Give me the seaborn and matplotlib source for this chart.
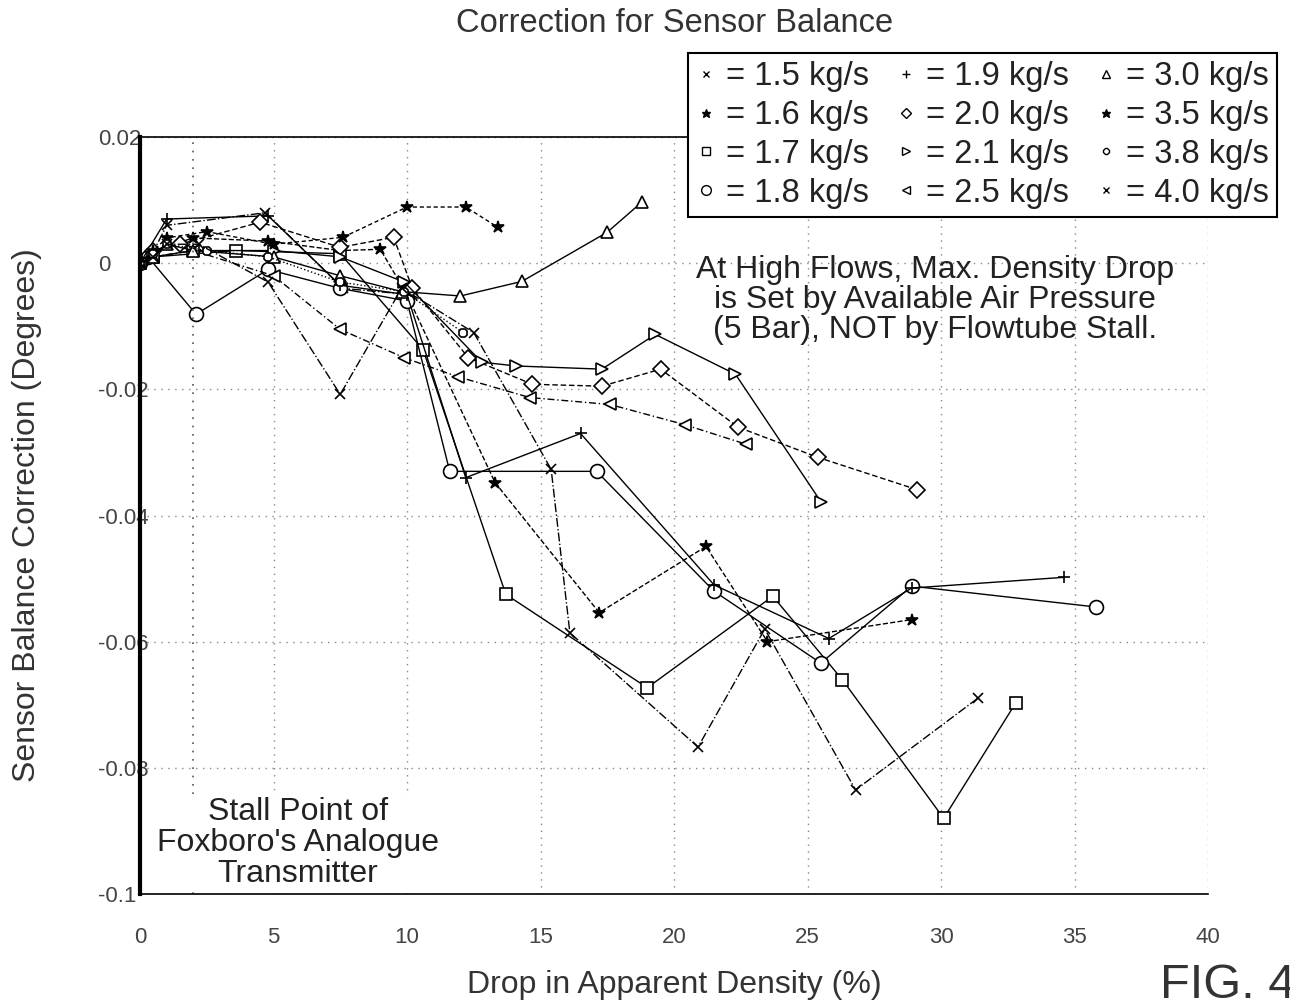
import matplotlib
matplotlib.use("Agg")
import matplotlib.pyplot as plt
from matplotlib.lines import Line2D
import pandas as pd
import seaborn as sns

# flow rates (kg/s) and the traces
FLOWS = ["1.5", "1.6", "1.7", "1.8", "1.9", "2.0", "2.1", "2.5", "3.0", "3.5", "3.8", "4.0"]

X_15 = [0, 0.4, 1.0, 4.7, 7.6, 10.2, 12.5, 15.4, 16.1, 20.9, 23.4, 26.8, 31.4]
Y_15 = [0, 0.001, 0.006, 0.008, -0.004, -0.005, -0.011, -0.0327, -0.0586, -0.0767, -0.058, -0.0835, -0.0689]

X_16 = [0, 0.5, 2.0, 4.8, 7.5, 9.0, 10.0, 13.3, 17.2, 21.2, 23.5, 28.9]
Y_16 = [0, 0.002, 0.004, 0.0035, 0.002, 0.0022, -0.005, -0.0348, -0.0554, -0.0449, -0.060, -0.0565]

X_17 = [0, 0.5, 3.6, 7.5, 10.6, 13.7, 19.0, 23.7, 26.3, 30.1, 32.8]
Y_17 = [0, 0.001, 0.002, 0.0015, -0.0137, -0.0525, -0.0673, -0.0528, -0.066, -0.088, -0.0697]

X_18 = [0, 0.3, 2.1, 4.8, 7.5, 10.0, 11.6, 17.1, 21.5, 25.5, 28.9, 35.8]
Y_18 = [0, 0.001, -0.0081, -0.001, -0.004, -0.006, -0.033, -0.033, -0.052, -0.0634, -0.0512, -0.0545]

X_19 = [0, 1.0, 4.8, 7.5, 10.0, 12.2, 16.5, 21.5, 25.8, 28.9, 34.6]
Y_19 = [0, 0.007, 0.0075, -0.0035, -0.005, -0.034, -0.027, -0.051, -0.0595, -0.0515, -0.0498]

X_20 = [0, 0.5, 1.5, 4.5, 7.5, 9.5, 10.2, 12.3, 14.7, 17.3, 19.5, 22.4, 25.4, 29.1]
Y_20 = [0, 0.002, 0.003, 0.0065, 0.0025, 0.0041, -0.004, -0.015, -0.0192, -0.0195, -0.0168, -0.026, -0.0308, -0.0359]

X_21 = [0, 0.5, 2.0, 5.0, 7.5, 9.9, 12.8, 14.1, 17.3, 19.3, 22.3, 25.5]
Y_21 = [0, 0.001, 0.002, 0.002, 0.001, -0.003, -0.0157, -0.0163, -0.0168, -0.0113, -0.0176, -0.0378]

X_25 = [0, 0.5, 2.0, 5.0, 7.5, 9.9, 11.9, 14.6, 17.6, 20.4, 22.7]
Y_25 = [0, 0.001, 0.002, -0.002, -0.0105, -0.015, -0.018, -0.0213, -0.0224, -0.0256, -0.0287]

X_30 = [0, 0.5, 1.0, 2.0, 5.0, 7.5, 9.8, 12.0, 14.3, 17.5, 18.8]
Y_30 = [0, 0.001, 0.003, 0.002, 0.001, -0.002, -0.0045, -0.0052, -0.0029, 0.0049, 0.0097]

X_35 = [0, 0.5, 1.0, 2.5, 5.0, 7.6, 10.0, 12.2, 13.4]
Y_35 = [0, 0.002, 0.004, 0.005, 0.003, 0.0041, 0.0089, 0.0089, 0.0057]

X_38 = [0, 0.5, 1.0, 2.5, 4.8, 7.5, 9.9, 12.1]
Y_38 = [0, 0.0015, 0.003, 0.002, 0.001, -0.003, -0.0045, -0.011]

X_40 = [0, 0.5, 1.0, 2.2, 4.8, 7.5, 9.8]
Y_40 = [0, 0.001, 0.003, 0.003, -0.003, -0.0208, -0.004]

SERIES_X = [X_15, X_16, X_17, X_18, X_19, X_20, X_21, X_25, X_30, X_35, X_38, X_40]
SERIES_Y = [Y_15, Y_16, Y_17, Y_18, Y_19, Y_20, Y_21, Y_25, Y_30, Y_35, Y_38, Y_40]

X_TICKS = [0, 5, 10, 15, 20, 25, 30, 35, 40]
Y_TICKS = [-0.1, -0.08, -0.06, -0.04, -0.02, 0, 0.02]
Y_TICK_LABELS = ["-0.1", "-0.08", "-0.06", "-0.04", "-0.02", "0", "0.02"]
STALL_X = 2.0

# styles per flow: marker, size, filled, line style
STYLES = {
    "1.5": ("x", 7, False, "-."),
    "1.6": ("*", 9, True, "--"),
    "1.7": ("s", 8, False, "-"),
    "1.8": ("o", 10, False, "-"),
    "1.9": ("+", 9, False, "-"),
    "2.0": ("D", 8, False, (0, (4, 2))),
    "2.1": (">", 9, False, "-"),
    "2.5": ("<", 9, False, (0, (5, 2, 1, 2))),
    "3.0": ("^", 9, False, "-"),
    "3.5": ("*", 9, True, (0, (3, 2))),
    "3.8": ("8", 7, False, ":"),
    "4.0": ("x", 7, False, "-."),
}

FONT = ["Liberation Sans", "DejaVu Sans"]
TEXT_COLOR = "#333333"

sns.set_theme(style="white")
plt.rcParams["font.family"] = FONT

fig = plt.figure(figsize=(12.9, 10.05), dpi=100)
ax = fig.add_axes([140 / 1290, 1 - 894 / 1005, (1208 - 140) / 1290, (894 - 137) / 1005])

for flow, xs, ys in zip(FLOWS, SERIES_X, SERIES_Y):
    marker, size, filled, ls = STYLES[flow]
    df = pd.DataFrame({"x": xs, "y": ys})
    sns.lineplot(
        data=df, x="x", y="y", ax=ax, sort=False, estimator=None,
        color="black", linewidth=1.0, linestyle=ls,
        marker=marker, markersize=size, markeredgewidth=1.2,
        markerfacecolor="black" if filled else "white", markeredgecolor="black",
        legend=False,
    )

ax.set_xlim(0, 40)
ax.set_ylim(-0.1, 0.02)
ax.set_xticks(X_TICKS)
ax.set_yticks(Y_TICKS)
ax.set_yticklabels(Y_TICK_LABELS)
ax.tick_params(length=0, labelsize=16, labelcolor="#444444")
ax.tick_params(axis="x", pad=24)
ax.tick_params(axis="y", pad=30)
for lab in ax.get_yticklabels():
    lab.set_horizontalalignment("left")
ax.grid(True, linestyle=(0, (1, 4)), color="#888888", linewidth=1.0)
ax.axvline(STALL_X, linestyle=(0, (1, 4)), color="#555555", linewidth=1.2)

for name, spine in ax.spines.items():
    spine.set_color("black")
    spine.set_linewidth(1.2)
ax.spines["left"].set_linewidth(3)
ax.spines["right"].set_visible(False)

ax.set_xlabel("Drop in Apparent Density (%)", fontsize=23, color=TEXT_COLOR)
ax.xaxis.set_label_coords(0.5, -(985 - 894) / 757)
ax.xaxis.label.set_va("center")
ax.set_ylabel("Sensor Balance Correction (Degrees)", fontsize=23, color=TEXT_COLOR)
ax.yaxis.set_label_coords((27 - 140) / 1068, 0.5)
ax.yaxis.label.set_va("center")

fig.text(675 / 1290, 1 - 23 / 1005, "Correction for Sensor Balance", ha="center", va="center",
         fontsize=23.5, color=TEXT_COLOR)

ax.text(935 / 1290, 1 - 300 / 1005,
        "At High Flows, Max. Density Drop\nis Set by Available Air Pressure\n(5 Bar), NOT by Flowtube Stall.",
        transform=fig.transFigure, ha="center", va="center", fontsize=23, color="#222222",
        linespacing=0.98)
ax.text(298 / 1290, 1 - 843 / 1005, "Stall Point of\nFoxboro's Analogue\nTransmitter",
        transform=fig.transFigure, ha="center", va="center", fontsize=23, color="#222222",
        linespacing=1.05, bbox=dict(facecolor="white", edgecolor="none", pad=1))
fig.text(1160 / 1290, 1 - 985 / 1005, "FIG. 4", ha="left", va="center", fontsize=35, color=TEXT_COLOR)

handles = []
for flow in FLOWS:
    marker, size, filled, ls = STYLES[flow]
    handles.append(Line2D([], [], linestyle="none", marker=marker, markersize=size * 0.7,
                          markerfacecolor="black" if filled else "white",
                          markeredgecolor="black", markeredgewidth=1.0))
labels = [f"= {f} kg/s" for f in FLOWS]
leg = fig.legend(handles, labels, loc="upper left", bbox_to_anchor=(688 / 1290, 1 - 53 / 1005),
                 ncol=3, fontsize=23.5, frameon=True, fancybox=False, handlelength=0.6,
                 handletextpad=0.3, columnspacing=0.85, labelspacing=0.24, borderpad=0.25,
                 borderaxespad=0, labelcolor="#222222")
leg.get_frame().set_edgecolor("black")
leg.get_frame().set_linewidth(1.5)
leg.get_frame().set_facecolor("white")
leg.get_frame().set_alpha(1)

fig.savefig("out.png", dpi=100)
